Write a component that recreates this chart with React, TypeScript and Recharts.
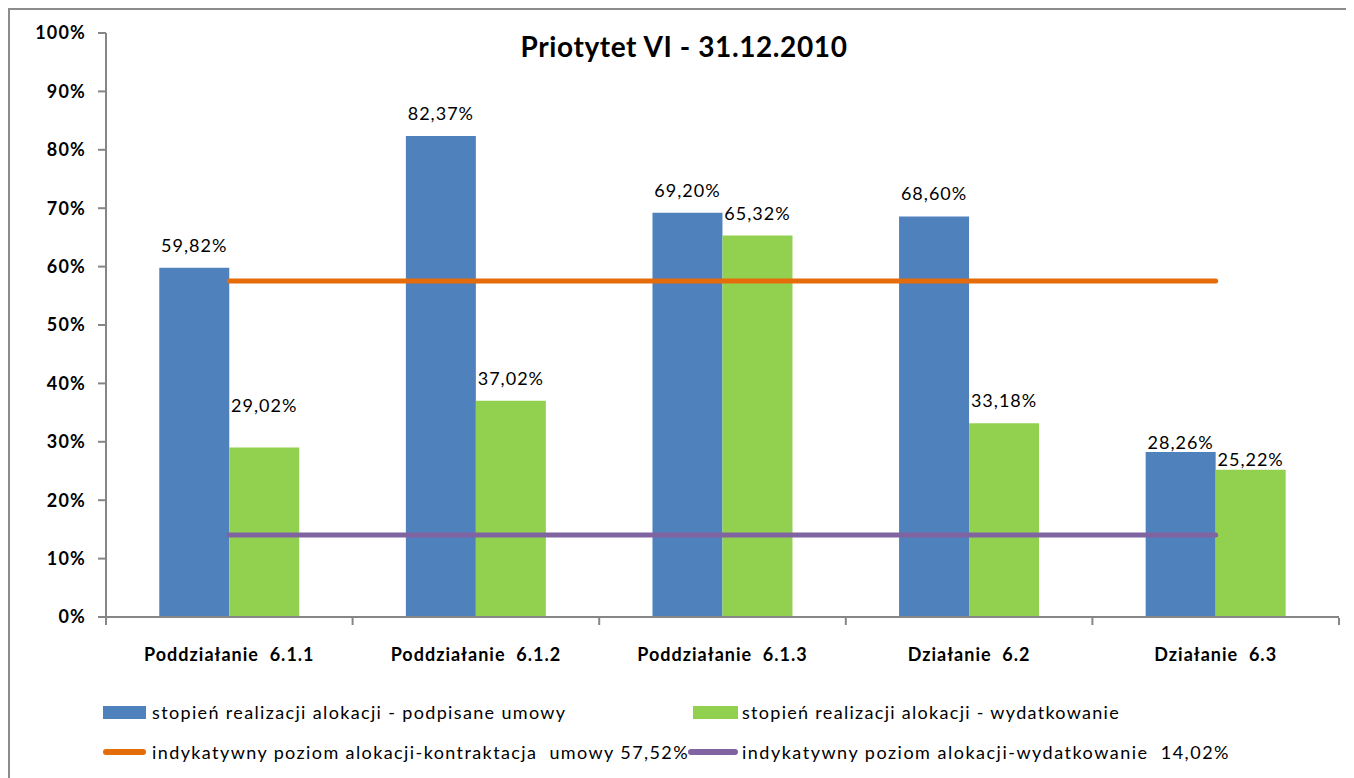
import React from "react";
import { ComposedChart, Bar, Line, XAxis, YAxis, LabelList } from "recharts";

const categories = [
  "Poddziałanie  6.1.1",
  "Poddziałanie  6.1.2",
  "Poddziałanie  6.1.3",
  "Działanie  6.2",
  "Działanie  6.3",
];
const podpisane = [59.82, 82.37, 69.2, 68.6, 28.26];
const wydatkowanie = [29.02, 37.02, 65.32, 33.18, 25.22];
const kontraktacja = [57.52, 57.52, 57.52, 57.52, 57.52];
const wydatkowanieInd = [14.02, 14.02, 14.02, 14.02, 14.02];
const yTicks = [0, 10, 20, 30, 40, 50, 60, 70, 80, 90, 100];

// manual nudges of the value labels (px, positive = up)
const blueLift = [0, 0, 0, 0, -13];
const greenLift = [20, 0, 0, 0, -12];

const data = categories.map((name, i) => ({
  name,
  a: podpisane[i],
  b: wydatkowanie[i],
  c: kontraktacja[i],
  d: wydatkowanieInd[i],
}));

const FONT = "Lato, 'Open Sans', sans-serif";

const fmt = (v: number) => v.toFixed(2).replace(".", ",") + "%";

const makeLabel = (lift: number[]) => (props: any) => {
  const { x, y, width, value, index } = props;
  return (
    <text
      x={x + width / 2}
      y={y - 16 - lift[index]}
      textAnchor="middle"
      fontSize={18}
      fontFamily={FONT}
      letterSpacing={1}
      fill="#000"
    >
      {fmt(value)}
    </text>
  );
};

const XTick = (props: any) => {
  const { x, y, payload, index } = props;
  const half = payload.offset ?? 123.3;
  return (
    <g>
      <line x1={x - half} y1={y - 7} x2={x - half} y2={y} stroke="#868686" strokeWidth={2} />
      {index === categories.length - 1 && (
        <line x1={x + half} y1={y - 7} x2={x + half} y2={y} stroke="#868686" strokeWidth={2} />
      )}
      <text
        x={x}
        y={y + 36}
        textAnchor="middle"
        fontSize={18}
        fontWeight="bold"
        fontFamily={FONT}
        letterSpacing={1}
        style={{ whiteSpace: "pre" }}
        fill="#000"
      >
        {payload.value}
      </text>
    </g>
  );
};

const legendText: React.CSSProperties = {
  position: "absolute",
  fontSize: 18,
  fontFamily: FONT,
  color: "#000",
  lineHeight: "20px",
  letterSpacing: 1.35,
  whiteSpace: "pre",
};

export default function App() {
  return (
    <div
      style={{
        position: "relative",
        width: 1360,
        height: 780,
        border: "2px solid #8c8c8c",
        background: "#fff",
        boxSizing: "content-box",
      }}
    >
      <div
        style={{
          position: "absolute",
          left: 0,
          width: 1348,
          top: 19,
          textAlign: "center",
          fontFamily: FONT,
          fontWeight: "bold",
          fontSize: 28,
          letterSpacing: 0.6,
          color: "#000",
        }}
      >
        Priotytet VI - 31.12.2010
      </div>
      <ComposedChart
        width={1350}
        height={660}
        data={data}
        margin={{ top: 23, right: 21, bottom: 0, left: 0 }}
        barCategoryGap="21.6%"
        barGap={0}
      >
        <XAxis
          dataKey="name"
          height={53}
          tickLine={false}
          axisLine={{ stroke: "#868686", strokeWidth: 2 }}
          tick={<XTick />}
          interval={0}
        />
        <YAxis
          width={96}
          domain={[0, 100]}
          ticks={yTicks}
          interval={0}
          tickFormatter={(v: number) => v + "%"}
          axisLine={{ stroke: "#868686", strokeWidth: 2 }}
          tickLine={{ stroke: "#868686", strokeWidth: 2 }}
          tickSize={8}
          tickMargin={12}
          tick={{ fontSize: 18, fontWeight: "bold", fontFamily: FONT, fill: "#000", letterSpacing: 1.2 }}
        />
        <Bar dataKey="a" fill="#4F81BD" isAnimationActive={false}>
          <LabelList dataKey="a" content={makeLabel(blueLift)} />
        </Bar>
        <Bar dataKey="b" fill="#92D050" isAnimationActive={false}>
          <LabelList dataKey="b" content={makeLabel(greenLift)} />
        </Bar>
        <Line
          dataKey="c"
          stroke="#E46C0A"
          strokeWidth={5}
          strokeLinecap="round"
          dot={false}
          activeDot={false}
          isAnimationActive={false}
        />
        <Line
          dataKey="d"
          stroke="#8064A2"
          strokeWidth={5}
          strokeLinecap="round"
          dot={false}
          activeDot={false}
          isAnimationActive={false}
        />
      </ComposedChart>

      <div style={{ position: "absolute", left: 93, top: 696, width: 43, height: 13, background: "#4F81BD" }} />
      <div style={{ ...legendText, left: 142, top: 692 }}>stopień realizacji alokacji - podpisane umowy</div>
      <div style={{ position: "absolute", left: 683, top: 696, width: 45, height: 13, background: "#92D050" }} />
      <div style={{ ...legendText, left: 732, top: 692, letterSpacing: 1.3 }}>stopień realizacji alokacji - wydatkowanie</div>

      <div style={{ position: "absolute", left: 93, top: 739, width: 43, height: 6, borderRadius: 3, background: "#E46C0A" }} />
      <div style={{ ...legendText, left: 142, top: 732, letterSpacing: 1.4 }}>indykatywny poziom alokacji-kontraktacja  umowy 57,52%</div>
      <div style={{ position: "absolute", left: 678, top: 739, width: 50, height: 6, borderRadius: 3, background: "#8064A2" }} />
      <div style={{ ...legendText, left: 732, top: 732, letterSpacing: 1.5 }}>indykatywny poziom alokacji-wydatkowanie  14,02%</div>
    </div>
  );
}
